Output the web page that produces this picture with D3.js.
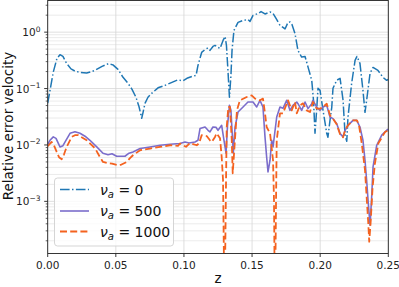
<!DOCTYPE html>
<html><head><meta charset="utf-8">
<script src="https://cdn.jsdelivr.net/npm/d3@7"></script>
<style>
body{margin:0;background:#fff;}
svg{display:block;font-family:"DejaVu Sans",sans-serif;}
</style></head><body>
<svg id="c" width="399" height="287"></svg>
<script>
// ---- data ----
const zBlue = [0,0.0017,0.0041,0.0068,0.0090,0.0112,0.0139,0.0171,0.0200,0.0237,0.0286,0.0347,0.0399,0.0445,0.0479,0.0516,0.0553,0.0589,0.0619,0.0648,0.0670,0.0690,0.0700,0.0714,0.0736,0.0763,0.0810,0.0861,0.0912,0.0956,0.0993,0.1022,0.1059,0.1089,0.1103,0.1130,0.1155,0.1177,0.1191,0.1213,0.1228,0.1250,0.1265,0.1287,0.1302,0.1312,0.1323,0.1334,0.1345,0.1353,0.1367,0.1397,0.1434,0.1470,0.1485,0.1507,0.1544,0.1566,0.1595,0.1632,0.1654,0.1676,0.1705,0.1742,0.1764,0.1779,0.1793,0.1815,0.1837,0.1864,0.1889,0.1911,0.1938,0.1951,0.1962,0.1974,0.1984,0.1999,0.2021,0.2048,0.2057,0.2072,0.2085,0.2094,0.2121,0.2146,0.2168,0.2183,0.2195,0.2204,0.2231,0.2256,0.2270,0.2292,0.2314,0.2329,0.2341,0.2366,0.2388,0.2424,0.2461,0.2488,0.2500];
const errBlue = [0.055,0.093,0.196,0.343,0.398,0.371,0.279,0.223,0.204,0.194,0.188,0.210,0.247,0.276,0.263,0.219,0.158,0.124,0.097,0.070,0.048,0.0297,0.0378,0.0547,0.070,0.0822,0.103,0.114,0.129,0.143,0.137,0.152,0.164,0.171,0.257,0.437,0.494,0.525,0.475,0.558,0.582,0.536,0.515,0.713,0.839,0.582,0.210,0.070,0.171,0.475,1.07,1.49,1.61,1.68,1.55,1.98,2.14,2.32,2.10,2.28,2.14,1.75,1.32,1.14,1.49,1.52,1.37,0.948,0.474,0.361,0.371,0.240,0.140,0.0618,0.0161,0.0411,0.101,0.0929,0.0411,0.0161,0.0137,0.0273,0.0465,0.101,0.140,0.152,0.0618,0.0148,0.0116,0.0309,0.124,0.316,0.371,0.279,0.0929,0.0379,0.0618,0.186,0.237,0.210,0.158,0.140,0.146];

const zPurple = [0,0.0017,0.0041,0.0061,0.0090,0.0112,0.0134,0.0164,0.0200,0.0237,0.0274,0.0310,0.0360,0.0406,0.0443,0.0472,0.0506,0.0531,0.0567,0.0597,0.0626,0.0678,0.0751,0.0825,0.0898,0.0971,0.1008,0.1037,0.1081,0.1103,0.1118,0.1155,0.1177,0.1191,0.1213,0.1235,0.1250,0.1277,0.1294,0.1309,0.1320,0.1334,0.1345,0.1353,0.1362,0.1375,0.1397,0.1434,0.1470,0.1507,0.1534,0.1558,0.1580,0.1595,0.1607,0.1617,0.1632,0.1644,0.1654,0.1681,0.1705,0.1727,0.1754,0.1778,0.1800,0.1828,0.1837,0.1864,0.1889,0.1911,0.1938,0.1947,0.1974,0.1999,0.2021,0.2048,0.2072,0.2094,0.2121,0.2146,0.2168,0.2183,0.2204,0.2241,0.2268,0.2292,0.2314,0.2329,0.2341,0.2353,0.2366,0.2378,0.2388,0.2415,0.2452,0.2488,0.2500];
const errPurple = [0.0103,0.0121,0.0139,0.0131,0.00922,0.00969,0.0121,0.0161,0.0171,0.0161,0.0143,0.0121,0.00922,0.00714,0.00671,0.00699,0.00631,0.00631,0.00631,0.00714,0.00752,0.00863,0.00922,0.00988,0.0103,0.0106,0.0113,0.0108,0.0113,0.0121,0.0195,0.0208,0.0182,0.0170,0.0208,0.0206,0.0182,0.0223,0.0121,0.00714,0.0223,0.0504,0.0411,0.0182,0.00714,0.0206,0.0384,0.0471,0.0577,0.0577,0.0471,0.0618,0.0471,0.0139,0.00613,0.00333,0.00536,0.0121,0.00922,0.0313,0.0471,0.0446,0.0618,0.0411,0.0504,0.0577,0.0540,0.0411,0.0577,0.0441,0.0540,0.0618,0.0471,0.0411,0.0471,0.0504,0.0313,0.0293,0.0239,0.0159,0.0139,0.0182,0.0223,0.0273,0.0273,0.0208,0.0121,0.00536,0.00237,0.000929,0.000379,0.00120,0.00408,0.00988,0.0149,0.0182,0.0190];

const zOrange = [0,0.0029,0.0046,0.0066,0.0083,0.0103,0.0120,0.0139,0.0176,0.0200,0.0225,0.0286,0.0347,0.0384,0.0406,0.0443,0.0472,0.0516,0.0538,0.0580,0.0604,0.0626,0.0678,0.0751,0.0825,0.0898,0.0956,0.0971,0.0993,0.1015,0.1044,0.1094,0.1111,0.1130,0.1167,0.1191,0.1204,0.1228,0.1240,0.1265,0.1277,0.1287,0.1298,0.1309,0.1314,0.1326,0.1338,0.1351,0.1358,0.1389,0.1411,0.1461,0.1497,0.1522,0.1558,0.1580,0.1595,0.1607,0.1632,0.1654,0.1661,0.1668,0.1676,0.1681,0.1705,0.1727,0.1764,0.1791,0.1815,0.1828,0.1852,0.1874,0.1901,0.1925,0.1947,0.1974,0.1999,0.2021,0.2048,0.2072,0.2094,0.2121,0.2146,0.2168,0.2183,0.2204,0.2241,0.2270,0.2285,0.2305,0.2329,0.2341,0.2353,0.2360,0.2370,0.2385,0.2402,0.2427,0.2476,0.2500];
const errOrange = [0.00948,0.0113,0.00988,0.00752,0.00606,0.00558,0.00684,0.00922,0.0139,0.0149,0.0149,0.0121,0.00874,0.00606,0.00500,0.00474,0.00465,0.00437,0.00445,0.00500,0.00582,0.00657,0.00806,0.00863,0.00922,0.00988,0.00960,0.0106,0.00988,0.00930,0.0108,0.00988,0.0107,0.0149,0.0144,0.0121,0.0113,0.0139,0.0161,0.0131,0.00613,0.00237,0.00001,0.00237,0.0208,0.0471,0.0471,0.0121,0.00315,0.0411,0.0618,0.0708,0.0758,0.0662,0.0618,0.0662,0.0364,0.0208,0.0161,0.00536,0.00104,0.00001,0.00104,0.0121,0.0364,0.0364,0.0618,0.0411,0.0577,0.0364,0.0504,0.0547,0.0411,0.0384,0.0577,0.0441,0.0441,0.0471,0.0540,0.0336,0.0293,0.0232,0.0155,0.0137,0.0182,0.0223,0.0273,0.0273,0.0223,0.0107,0.00357,0.00120,0.000411,0.000192,0.000411,0.00181,0.00474,0.0107,0.0170,0.0182];

const xTicks = [0, 0.05, 0.10, 0.15, 0.20, 0.25];
const xTickLabels = ["0.00","0.05","0.10","0.15","0.20","0.25"];
const yTicks = [1, 0.1, 0.01, 0.001];
const yTickExp = ["0","\u22121","\u22122","\u22123"];
const seriesNames = ["0","500","1000"];

// ---- layout ----
const svg = d3.select("#c");
const L = 47.7, R = 388.3, T = 0.5, B = 253.5;
const x = d3.scaleLinear().domain([0, 0.25]).range([L, R]);
const y = d3.scaleLog().domain([1.19e-4, 3.64]).range([B, T]);

// grid
const minor = [];
for (let e = -4; e <= 0; e++) for (let k = 2; k <= 9; k++) {
  const v = k * Math.pow(10, e);
  if (v > y.domain()[0] && v < y.domain()[1]) minor.push(v);
}
const g = svg.append("g");
g.selectAll(".mg").data(minor).enter().append("line")
  .attr("x1", L).attr("x2", R).attr("y1", d => y(d)).attr("y2", d => y(d))
  .attr("stroke", "#e6e6e6").attr("stroke-width", 0.8);
g.selectAll(".yg").data(yTicks).enter().append("line")
  .attr("x1", L).attr("x2", R).attr("y1", d => y(d)).attr("y2", d => y(d))
  .attr("stroke", "#d6d6d6").attr("stroke-width", 0.8);
g.selectAll(".xg").data(xTicks).enter().append("line")
  .attr("y1", T).attr("y2", B).attr("x1", d => x(d)).attr("x2", d => x(d))
  .attr("stroke", "#d6d6d6").attr("stroke-width", 0.8);

// lines
svg.append("clipPath").attr("id", "clip").append("rect")
  .attr("x", L).attr("y", T).attr("width", R - L).attr("height", B - T);
const line = d3.line().x(d => x(d[0])).y(d => y(d[1]));
const plot = svg.append("g").attr("clip-path", "url(#clip)");
const series = [
  {z: zBlue, v: errBlue, color: "#1f77b4", w: 1.5, dash: "9.6,2.4,1.5,2.4"},
  {z: zPurple, v: errPurple, color: "#7b6dcb", w: 1.6, dash: null},
  {z: zOrange, v: errOrange, color: "#f4621f", w: 1.8, dash: "7,3.2"}
];
series.forEach(s => {
  plot.append("path").datum(s.z.map((z, i) => [z, s.v[i]]))
    .attr("d", line).attr("fill", "none").attr("stroke", s.color)
    .attr("stroke-width", s.w).attr("stroke-dasharray", s.dash)
    .attr("stroke-linejoin", "round");
});

// frame
svg.append("rect").attr("x", L).attr("y", T).attr("width", R - L).attr("height", B - T)
  .attr("fill", "none").attr("stroke", "#222").attr("stroke-width", 0.9);

// x axis
xTicks.forEach((t, i) => {
  svg.append("line").attr("x1", x(t)).attr("x2", x(t)).attr("y1", B).attr("y2", B + 3.5)
    .attr("stroke", "#222").attr("stroke-width", 0.9);
  svg.append("text").attr("x", x(t)).attr("y", B + 15).attr("text-anchor", "middle")
    .attr("font-size", 10.5).attr("fill", "#222").text(xTickLabels[i]);
});
svg.append("text").attr("x", (L + R) / 2).attr("y", 283).attr("text-anchor", "middle")
  .attr("font-size", 13.5).attr("fill", "#111").text("z");

// y axis
minor.forEach(v => {
  svg.append("line").attr("x1", L - 2).attr("x2", L).attr("y1", y(v)).attr("y2", y(v))
    .attr("stroke", "#222").attr("stroke-width", 0.7);
});
yTicks.forEach((t, i) => {
  svg.append("line").attr("x1", L - 3.5).attr("x2", L).attr("y1", y(t)).attr("y2", y(t))
    .attr("stroke", "#222").attr("stroke-width", 0.9);
  const tx = svg.append("text").attr("x", 40.5).attr("y", y(t) + 4).attr("text-anchor", "end")
    .attr("font-size", 10.5).attr("fill", "#222");
  tx.append("tspan").text("10");
  tx.append("tspan").attr("dy", -4.5).attr("font-size", 7.5).text(yTickExp[i]);
});
svg.append("text").attr("transform", "translate(13,126) rotate(-90)")
  .attr("text-anchor", "middle").attr("font-size", 13.5).attr("fill", "#111")
  .text("Relative error velocity");

// legend
const lg = svg.append("g");
lg.append("rect").attr("x", 54.5).attr("y", 178).attr("width", 119).attr("height", 68)
  .attr("rx", 3).attr("fill", "#fff").attr("fill-opacity", 0.8)
  .attr("stroke", "#d0d0d0").attr("stroke-width", 0.9);
const rowY = [189.5, 211, 231.5];
series.forEach((s, i) => {
  lg.append("line").attr("x1", 60).attr("x2", 89).attr("y1", rowY[i]).attr("y2", rowY[i])
    .attr("stroke", s.color).attr("stroke-width", s.w).attr("stroke-dasharray", s.dash);
  const t = lg.append("text").attr("x", 100).attr("y", rowY[i] + 5).attr("font-size", 14).attr("fill", "#111");
  t.append("tspan").attr("font-style", "italic").text("\u03bd");
  t.append("tspan").attr("font-style", "italic").attr("font-size", 10).attr("dy", 3).text("a");
  t.append("tspan").attr("dy", -3).text(" = " + seriesNames[i]);
});
</script>
</body></html>
